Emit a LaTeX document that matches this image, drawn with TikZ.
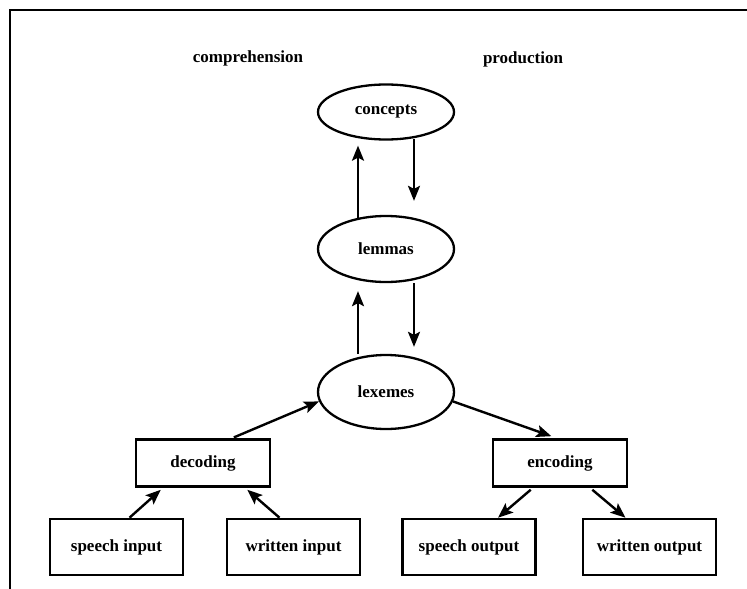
\documentclass[tikz,border=0pt]{standalone}
\usepackage{fontspec}
\setmainfont{Liberation Serif}
\usetikzlibrary{arrows.meta,shapes.geometric}

\tikzset{
  lbl/.style={font=\fontsize{17}{20}\selectfont\bfseries, inner sep=0pt},
  oval/.style={draw, ellipse, line width=2.3pt, minimum width=136pt, inner sep=0pt,
               font=\fontsize{17}{20}\selectfont\bfseries},
  stage/.style={draw, rectangle, line width=2.6pt, minimum width=134pt, minimum height=47pt,
                inner sep=0pt, font=\fontsize{17}{20}\selectfont\bfseries},
  io/.style={stage, minimum width=133pt, minimum height=56pt},
  arr/.style={line width=2.4pt, -{Stealth[length=15pt,width=12pt,inset=3pt]}},
  frame/.style={line width=1.5pt}
}

\begin{document}
\begin{tikzpicture}[x=1pt,y=-1pt]
\useasboundingbox (0,0) rectangle (747,589);

% open frame: left and top edges
\coordinate (fbl) at (10,589);
\coordinate (ftl) at (10,10);
\coordinate (ftr) at (747,10);
\draw[frame] (fbl) -- (ftl) -- (ftr);

% column headings
\node[lbl] (comp) at (248,58) {comprehension};
\node[lbl] (prod) at (523,59) {production};

% the three levels
\node[oval, minimum height=55pt] (concepts) at (386,112) {concepts};
\node[oval, minimum height=66pt] (lemmas)   at (386,249) {lemmas};
\node[oval, minimum height=74pt] (lexemes)  at (386,392) {lexemes};

% processing stages
\node[stage] (decoding) at (203,463) {decoding};
\node[stage] (encoding) at (560,463) {encoding};

% inputs and outputs
\node[io] (speechin)   at (116.5,547) {speech input};
\node[io] (writtenin)  at (293.5,547) {written input};
\node[io] (speechout)  at (469,547)   {speech output};
\node[io] (writtenout) at (649.5,547) {written output};

% vertical tracks for the up (comprehension) and down (production) arrows
\coordinate (upx) at (358,0);
\coordinate (dnx) at (414,0);

\draw[arr, shorten <=-3pt, shorten >=5pt] (lemmas.north -| upx) -- (concepts.south -| upx);
\draw[arr, shorten <=-2pt, shorten >=14pt] (concepts.south -| dnx) -- (lemmas.north -| dnx);
\draw[arr, shorten >=8pt] (lexemes.north -| upx) -- (lemmas.south -| upx);
\draw[arr, shorten >=7pt] (lemmas.south -| dnx) -- (lexemes.north -| dnx);

% lexemes to and from the stages
\draw[arr, shorten <=2pt] ([xshift=29pt]decoding.north) -- (lexemes.188);
\draw[arr, shorten >=6pt] (lexemes.352) -- ([xshift=-3pt]encoding.north);

% inputs feed decoding
\draw[arr, shorten >=3pt] ([xshift=13pt]speechin.north) -- ([xshift=-40pt]decoding.south);
\draw[arr, shorten >=3pt] ([xshift=-14pt]writtenin.north) -- ([xshift=42pt]decoding.south);

% encoding feeds outputs
\draw[arr, shorten <=3pt] ([xshift=-27pt]encoding.south) -- ([xshift=29pt]speechout.north);
\draw[arr, shorten <=3pt] ([xshift=30pt]encoding.south) -- ([xshift=-24pt]writtenout.north);
\end{tikzpicture}
\end{document}
